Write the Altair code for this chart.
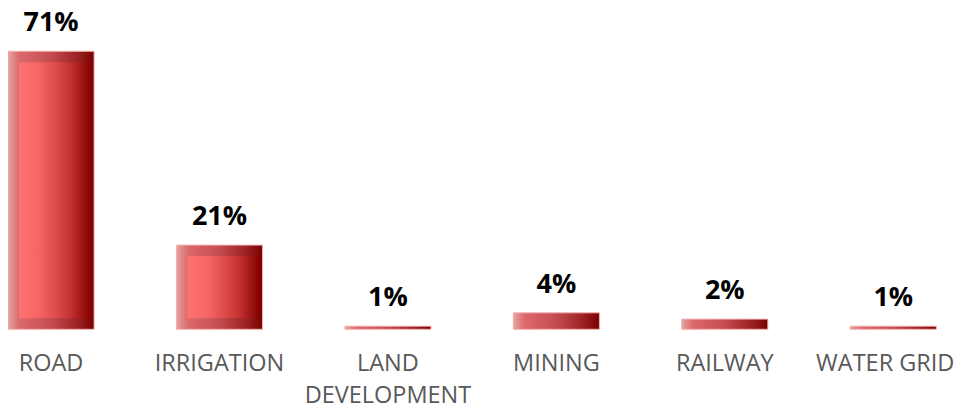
import altair as alt
import pandas as pd

categories = ["ROAD", "IRRIGATION", "LAND DEVELOPMENT", "MINING", "RAILWAY", "WATER GRID"]
values = [71, 21.5, 0.8, 4.2, 2.6, 0.8]
labels = ["71%", "21%", "1%", "4%", "2%", "1%"]

df = pd.DataFrame({"category": categories, "value": values, "label": labels})

x_enc = alt.X(
    "category:N",
    sort=categories,
    scale=alt.Scale(paddingInner=0.489, paddingOuter=0),
    axis=alt.Axis(
        title=None, domain=False, ticks=False, labelAngle=0,
        labelFont="Open Sans", labelFontSize=23.5, labelColor="#595959",
        labelPadding=41, labelBaseline="alphabetic", labelLineHeight=32,
        labelOverlap=False,
        labelOffset={"condition": {"test": "datum.label == 'WATER GRID'", "value": -8}, "value": 0},
        labelExpr="datum.label == 'LAND DEVELOPMENT' ? ['LAND', 'DEVELOPMENT'] : datum.label",
    ),
)
y_enc = alt.Y("value:Q", scale=alt.Scale(domain=[0, 80]), axis=None)

outer_grad = alt.Gradient(
    gradient="linear", x1=0, x2=1, y1=0, y2=0,
    stops=[
        alt.GradientStop(color="#e6a3a3", offset=0),
        alt.GradientStop(color="#dc6a6c", offset=0.13),
        alt.GradientStop(color="#c44c50", offset=0.5),
        alt.GradientStop(color="#961c1c", offset=0.85),
        alt.GradientStop(color="#780000", offset=1),
    ],
)
inner_grad = alt.Gradient(
    gradient="linear", x1=0, x2=1, y1=0, y2=0,
    stops=[
        alt.GradientStop(color="#ff7373", offset=0),
        alt.GradientStop(color="#f46464", offset=0.3),
        alt.GradientStop(color="#c83434", offset=0.7),
        alt.GradientStop(color="#840000", offset=1),
    ],
)

base = alt.Chart(df)

outer = base.mark_bar(color=outer_grad, stroke="#f4b0b0", strokeWidth=1).encode(x=x_enc, y=y_enc)

inner = base.transform_filter("datum.value > 10").mark_bar(
    color=inner_grad, width=alt.RelativeBandSize(0.84), xOffset=4, yOffset=11, y2Offset=-11
).encode(x=x_enc, y=y_enc, y2=alt.datum(0))

text = base.mark_text(
    font="Open Sans", fontWeight="bold", fontSize=27, color="black",
    dy=-20, baseline="alphabetic",
).encode(x=x_enc, y=y_enc, text="label:N")

chart = (
    alt.layer(outer, inner, text)
    .properties(
        width=928.3, height=313.3, autosize="none",
        padding={"left": 0, "top": 8, "right": 18.7, "bottom": 77},
        background="white",
    )
    .configure_view(stroke=None)
)

chart.save("out.html", embed_options={"renderer": "svg", "actions": False})
